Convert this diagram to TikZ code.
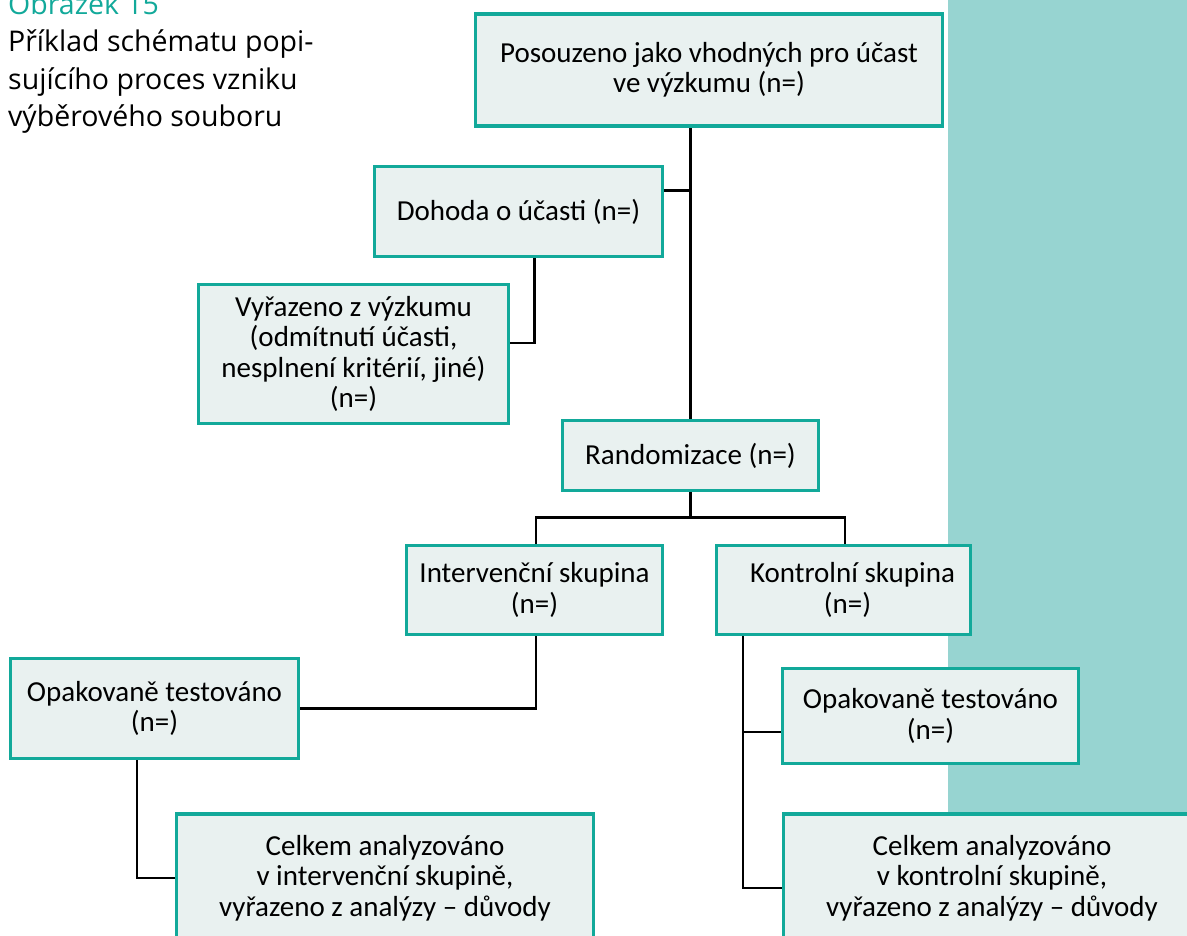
\documentclass[tikz,border=0pt]{standalone}
\usepackage{fontspec}
\setmainfont{Carlito}
\newfontfamily\capfont{Open Sans}
\definecolor{frame}{HTML}{12A99A}
\definecolor{boxfill}{HTML}{E9F1F0}
\definecolor{panel}{HTML}{97D4D1}
\begin{document}
\begin{tikzpicture}[x=1pt,y=-1pt,
  box/.style={draw=frame, fill=boxfill, line width=3.5pt, align=center,
    inner sep=0pt, font=\fontsize{29}{30.5}\selectfont},
  link/.style={draw=black, line width=2.8pt},
  capt/.style={inner sep=0pt, align=left, font=\capfont\fontsize{28.5}{37.5}\selectfont}]
\clip (0,0) rectangle (1187,936);
% side panel
\fill[panel] (948,0) rectangle (1187,812);
% caption, anchored on the baseline of its last line
\node[capt, anchor=base west] (cap) at (8,127)
  {\textcolor{frame}{Obrázek 15}\\Příklad schématu popi-\\sujícího proces vzniku\\výběrového souboru};
% boxes
\node[box, minimum width=467pt, minimum height=112pt] (pos) at (709,70)
  {Posouzeno jako vhodných pro účast\\ve výzkumu (n=)};
\node[box, minimum width=288pt, minimum height=90pt] (doh) at (518.5,211.5)
  {Dohoda o účasti (n=)};
\node[box, minimum width=310pt, minimum height=139pt] (vyr) at (353.5,354)
  {Vyřazeno z výzkumu\\(odmítnutí účasti,\\nesplnení kritérií, jiné)\\(n=)};
\node[box, minimum width=256pt, minimum height=70pt] (rand) at (690.5,455.5)
  {Randomizace (n=)};
\node[box, minimum width=256pt, minimum height=89pt] (int) at (534.5,590)
  {Intervenční skupina\\(n=)};
\node[box, minimum width=254pt, minimum height=89pt] (kon) at (843.5,590)
  {\hspace*{18pt}Kontrolní skupina\\\hspace*{8pt}(n=)};
\node[box, minimum width=288pt, minimum height=100pt] (opl) at (154.5,708.5)
  {Opakovaně testováno\\(n=)};
\node[box, minimum width=296pt, minimum height=95pt] (opr) at (930.5,716)
  {Opakovaně testováno\\(n=)};
\node[box, minimum width=417pt, minimum height=128pt] (cel1) at (385,878)
  {Celkem analyzováno\\v intervenční skupině,\\vyřazeno z analýzy – důvody};
\node[box, minimum width=417pt, minimum height=128pt] (cel2) at (992,878)
  {Celkem analyzováno\\v kontrolní skupině,\\vyřazeno z analýzy – důvody};
% connectors
\draw[link] (rand.north) -- (rand.north |- pos.south);
\draw[link] ([yshift=21pt]doh.east) coordinate (d1) -- (d1 -| rand.north);
\draw[link] ([xshift=16pt]doh.south) |- ([yshift=11pt]vyr.east);
\path (rand.south) ++(0,25) coordinate (split);
\draw[link] (rand.south) -- (split);
\draw[link] ([xshift=1.5pt]int.north) |- (split) -| ([xshift=1.5pt]kon.north);
\draw[link] ([xshift=1.5pt]int.south) |- (opl.east);
\draw[link] ([xshift=-17.5pt]opl.south) |- (cel1.west);
\draw[link] ([xshift=-100.5pt]kon.south) |- ([yshift=-10pt]cel2.west);
\draw[link] ([yshift=-16pt]opr.west) -| ([xshift=-100.5pt]kon.south);
\end{tikzpicture}
\end{document}
